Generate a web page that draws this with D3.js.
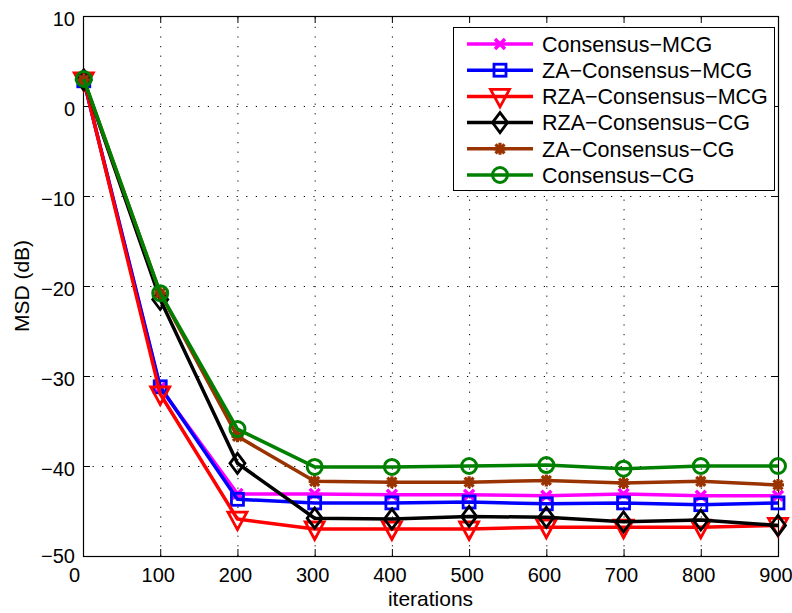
<!DOCTYPE html>
<html>
<head>
<meta charset="utf-8">
<script src="https://cdn.jsdelivr.net/npm/d3@7"></script>
<style>
  html, body { margin: 0; padding: 0; background: #fff; }
  svg { display: block; font-family: "Liberation Sans", Arial, Helvetica, sans-serif; }
</style>
</head>
<body>
<svg id="chart" width="792" height="613"></svg>
<script>
// Iteration checkpoints and MSD (dB) per algorithm
const iterations = [1, 100, 200, 300, 400, 500, 600, 700, 800, 900];

const consensusMCG    = [2.8, -31.3, -43.1, -43.1, -43.2, -43.2, -43.3, -43.1, -43.3, -43.3];
const zaConsensusMCG  = [2.8, -31.2, -43.7, -44.1, -44.1, -44.0, -44.2, -44.1, -44.3, -44.1];
const rzaConsensusMCG = [2.9, -32.0, -45.9, -47.0, -47.0, -47.0, -46.8, -46.8, -46.8, -46.6];
const rzaConsensusCG  = [2.9, -21.5, -39.7, -45.8, -45.9, -45.6, -45.7, -46.2, -46.0, -46.6];
const zaConsensusCG   = [2.9, -20.8, -36.7, -41.7, -41.8, -41.8, -41.6, -41.9, -41.7, -42.1];
const consensusCG     = [3.0, -20.8, -35.9, -40.1, -40.1, -40.0, -39.9, -40.3, -40.0, -40.0];

const seriesNames  = ["Consensus\u2212MCG", "ZA\u2212Consensus\u2212MCG", "RZA\u2212Consensus\u2212MCG",
                      "RZA\u2212Consensus\u2212CG", "ZA\u2212Consensus\u2212CG", "Consensus\u2212CG"];
const seriesValues = [consensusMCG, zaConsensusMCG, rzaConsensusMCG, rzaConsensusCG, zaConsensusCG, consensusCG];
const seriesColors = ["#ff00ff", "#0000ff", "#ff0000", "#000000", "#993300", "#008000"];
const seriesMarkers = ["x", "square", "triangleDown", "diamond", "asterisk", "circle"];

const xTicks = [0, 100, 200, 300, 400, 500, 600, 700, 800, 900];
const yTicks = [10, 0, -10, -20, -30, -40, -50];

const W = 792, H = 613;
const margin = { top: 16, right: 14, bottom: 57, left: 83 };
const iw = W - margin.left - margin.right;
const ih = H - margin.top - margin.bottom;

const svg = d3.select("#chart");
const g = svg.append("g").attr("transform", `translate(${margin.left},${margin.top})`);

const x = d3.scaleLinear().domain([0, 900]).range([0, iw]);
const y = d3.scaleLinear().domain([-50, 10]).range([ih, 0]);

// dotted grid
const grid = g.append("g").attr("stroke", "#000").attr("stroke-width", 1)
  .attr("stroke-dasharray", "1.2,8.4");
grid.selectAll("line.vx").data(xTicks.filter(d => d > 0 && d < 900)).enter().append("line")
  .attr("x1", d => x(d) + 0.5).attr("x2", d => x(d) + 0.5)
  .attr("y1", ih).attr("y2", 0);
grid.selectAll("line.hy").data(yTicks.filter(d => d > -50 && d < 10)).enter().append("line")
  .attr("y1", d => y(d) + 0.5).attr("y2", d => y(d) + 0.5)
  .attr("x1", 0).attr("x2", iw);

// axes with inward ticks
const fmt = d => (d < 0 ? "\u2212" + Math.abs(d) : String(d));
const tickLen = 7;

const xAxisB = g.append("g").attr("transform", `translate(0,${ih})`)
  .call(d3.axisBottom(x).tickValues(xTicks).tickSizeInner(-tickLen).tickSizeOuter(0).tickPadding(12).tickFormat(fmt));
const xAxisT = g.append("g")
  .call(d3.axisTop(x).tickValues(xTicks).tickSizeInner(-tickLen).tickSizeOuter(0).tickFormat(""));
const yAxisL = g.append("g")
  .call(d3.axisLeft(y).tickValues(yTicks).tickSizeInner(-tickLen).tickSizeOuter(0).tickPadding(8).tickFormat(fmt));
const yAxisR = g.append("g").attr("transform", `translate(${iw},0)`)
  .call(d3.axisRight(y).tickValues(yTicks).tickSizeInner(-tickLen).tickSizeOuter(0).tickFormat(""));

[xAxisB, xAxisT, yAxisL, yAxisR].forEach(a => {
  a.select(".domain").remove();
  a.selectAll("line").attr("stroke", "#000").attr("stroke-width", 1);
  a.selectAll("text").attr("font-size", 20).attr("fill", "#000")
    .attr("font-family", "\"Liberation Sans\", Arial, Helvetica, sans-serif");
});
xAxisB.selectAll("text").attr("dy", "0.71em").attr("dx", d => d === 0 ? -9 : -2.5);
yAxisL.selectAll("text").attr("dy", "0.38em").attr("y", d => d === -50 ? -1 : 2);

// box
g.append("rect").attr("x", 0.5).attr("y", 0.5).attr("width", iw).attr("height", ih)
  .attr("fill", "none").attr("stroke", "#000").attr("stroke-width", 1.2);

// marker shapes
function drawMarker(sel, type, color) {
  const sw = 2.8;
  if (type === "circle") {
    sel.append("circle").attr("r", 7.5).attr("fill", "none").attr("stroke", color).attr("stroke-width", 3);
  } else if (type === "square") {
    sel.append("rect").attr("x", -6).attr("y", -6).attr("width", 12).attr("height", 12)
      .attr("fill", "none").attr("stroke", color).attr("stroke-width", sw);
  } else if (type === "triangleDown") {
    sel.append("path").attr("d", "M-9.5,-7L9.5,-7L0,10.5Z")
      .attr("fill", "none").attr("stroke", color).attr("stroke-width", sw).attr("stroke-linejoin", "miter");
  } else if (type === "diamond") {
    sel.append("path").attr("d", "M0,-10L7.5,0L0,10L-7.5,0Z")
      .attr("fill", "none").attr("stroke", color).attr("stroke-width", sw);
  } else if (type === "x") {
    sel.append("path").attr("d", "M-5,-5L5,5M-5,5L5,-5")
      .attr("stroke", color).attr("stroke-width", 3.4);
  } else if (type === "asterisk") {
    sel.append("path").attr("d", "M-6,0L6,0M0,-6L0,6M-4.5,-4.5L4.5,4.5M-4.5,4.5L4.5,-4.5")
      .attr("stroke", color).attr("stroke-width", 3.2);
  }
}

// series
const line = d3.line().x(d => x(d[0])).y(d => y(d[1]));
seriesValues.forEach((vals, i) => {
  const pts = iterations.map((it, k) => [it, vals[k]]);
  const sg = g.append("g");
  sg.append("path").datum(pts).attr("d", line)
    .attr("fill", "none").attr("stroke", seriesColors[i]).attr("stroke-width", 3.5)
    .attr("stroke-linejoin", "round");
  pts.forEach(p => {
    const m = sg.append("g").attr("transform", `translate(${x(p[0])},${y(p[1])})`);
    drawMarker(m, seriesMarkers[i], seriesColors[i]);
  });
});

// axis labels
svg.append("text").attr("x", margin.left + iw / 2).attr("y", 606)
  .attr("text-anchor", "middle").attr("font-size", 21).text("iterations");
svg.append("text").attr("transform", `translate(29,${margin.top + ih / 2}) rotate(-90)`)
  .attr("text-anchor", "middle").attr("font-size", 21).text("MSD (dB)");

// legend
const lg = svg.append("g").attr("transform", "translate(453,27)");
lg.append("rect").attr("x", 0.5).attr("y", 0.5).attr("width", 321).attr("height", 163)
  .attr("fill", "#fff").attr("stroke", "#000").attr("stroke-width", 1);
seriesNames.forEach((name, i) => {
  const cy = 17 + i * 26.2;
  const row = lg.append("g").attr("transform", `translate(0,${cy})`);
  row.append("line").attr("x1", 14).attr("x2", 80).attr("y1", 0).attr("y2", 0)
    .attr("stroke", seriesColors[i]).attr("stroke-width", 3.5);
  const m = row.append("g").attr("transform", "translate(47,0)");
  drawMarker(m, seriesMarkers[i], seriesColors[i]);
  row.append("text").attr("x", 89).attr("y", 0).attr("dy", "0.36em")
    .attr("font-size", 21.5).text(name);
});
</script>
</body>
</html>
